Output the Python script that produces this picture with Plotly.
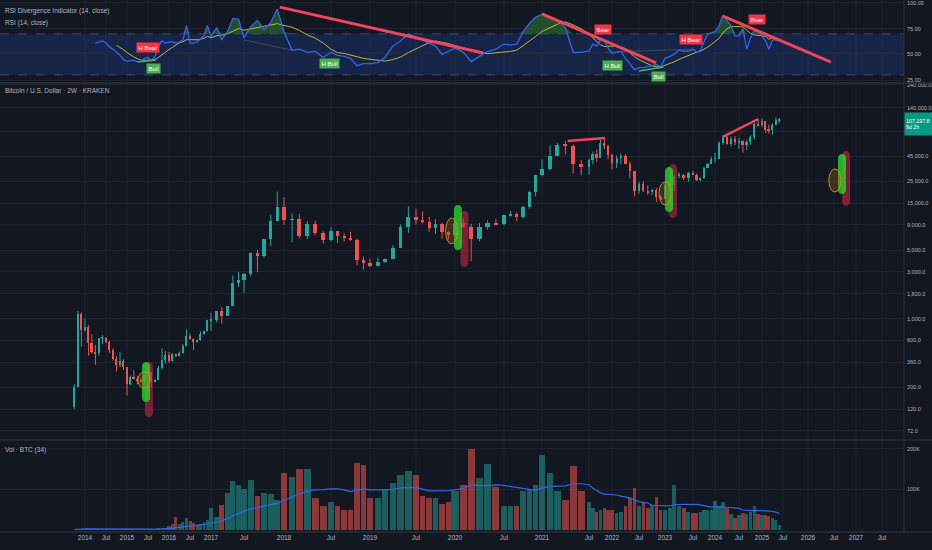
import numpy as np
import pandas as pd
import plotly.graph_objects as go

# ---------------------------------------------------------------- data
# monthly candles, Oct 2013 .. Jun 2025
FIRST_MONTH = "2013-10-01"
OPEN_FIRST = 125

CLOSE = [
    204, 1130, 760,
    830, 570, 460, 445, 630, 640, 585, 480, 385, 340, 375, 320,
    218, 254, 245, 236, 230, 264, 285, 230, 236, 313, 377, 430,
    368, 436, 416, 448, 530, 673, 624, 573, 608, 700, 745, 963,
    965, 1190, 1070, 1350, 2300, 2480, 2880, 4700, 4340, 6450, 10000, 13800,
    10200, 10300, 6900, 9250, 7500, 6400, 7730, 7000, 6630, 6350, 4000, 3700,
    3450, 3800, 4100, 5300, 8550, 10800, 10100, 9600, 8300, 9150, 7550, 7200,
    9350, 8550, 6420, 8650, 9450, 9140, 11350, 11650, 10780, 13800, 19700, 29000,
    33100, 45200, 58800, 57700, 37300, 35000, 41500, 47100, 43800, 61300, 57000, 46200,
    38500, 43200, 45500, 37700, 31800, 19900, 23300, 20000, 19400, 20500, 17200, 16550,
    23100, 23150, 28450, 29250, 27200, 30450, 29200, 25950, 26950, 34650, 37700, 42300,
    42550, 61150, 71300, 60650, 67500, 62700, 64600, 58950, 63300, 70200, 96400, 93400,
    102400, 84300, 82500, 94200, 104600, 107198,
]
HIGH = [
    215, 1200, 1160,
    1000, 860, 700, 540, 630, 680, 650, 600, 500, 415, 460, 390,
    320, 265, 300, 260, 250, 268, 318, 285, 245, 330, 500, 470,
    460, 445, 440, 465, 550, 780, 700, 630, 615, 740, 755, 975,
    1150, 1200, 1300, 1350, 2750, 3000, 2920, 4750, 5000, 6470, 11500, 19700,
    17200, 11800, 11700, 9800, 9990, 7750, 8500, 7750, 7400, 7680, 6550, 4300,
    4100, 4200, 4120, 5600, 9100, 13900, 13200, 12300, 10900, 10350, 9500, 7750,
    9550, 10500, 9200, 9450, 10050, 10400, 11450, 12480, 12100, 14100, 19900, 29300,
    41900, 58300, 61700, 64800, 59500, 41300, 42300, 50500, 52900, 67000, 69000, 59100,
    48000, 45800, 48200, 47400, 40000, 31900, 24600, 25200, 22800, 21000, 21500, 18400,
    23900, 25250, 29200, 31000, 29800, 31400, 31800, 30200, 27500, 35000, 38400, 44700,
    48900, 64000, 73800, 72800, 71900, 72000, 70000, 65600, 66500, 73600, 99800, 108300,
    109300, 102500, 95000, 97900, 111900, 110500,
]
LOW = [
    120, 200, 520,
    740, 420, 440, 340, 420, 550, 565, 450, 375, 290, 320, 300,
    165, 210, 240, 215, 225, 220, 255, 200, 225, 236, 305, 350,
    355, 365, 405, 413, 440, 520, 610, 480, 570, 600, 690, 740,
    750, 920, 890, 1060, 1340, 2100, 1830, 2700, 2980, 4160, 5500, 9800,
    9100, 6000, 6600, 6450, 7050, 5800, 6100, 5880, 6100, 6200, 3500, 3150,
    3350, 3400, 3700, 4050, 5300, 7500, 9100, 9350, 7700, 7300, 6500, 6400,
    6850, 8450, 3850, 6150, 8100, 8900, 8900, 10950, 9850, 10400, 13200, 17600,
    28100, 32300, 45000, 47000, 30000, 28800, 29300, 37300, 39600, 43300, 53300, 42000,
    33000, 34300, 37200, 37600, 26700, 17600, 18800, 19600, 18200, 18200, 15500, 16300,
    16500, 21400, 19600, 26900, 25800, 24800, 28900, 25200, 24900, 26600, 34100, 37600,
    38500, 41900, 59000, 59200, 56600, 58400, 53500, 49000, 52600, 58900, 66800, 90500,
    89200, 78200, 76600, 74400, 93300, 98200,
]
# volume per bar, thousands of BTC
VOLUME_K = [
    1, 3, 3,
    3, 3, 2, 2, 2, 2, 2, 2, 2, 2, 2, 2,
    3, 2, 2, 2, 2, 2, 3, 3, 2, 4, 6, 5,
    10, 15, 31, 15, 20, 30, 22, 18, 12, 15, 20, 25,
    54, 33, 62, 90, 122, 111, 100, 123, 85, 90, 88, 75,
    140, 130, 150, 150, 80, 60, 70, 58, 50, 50, 165, 160,
    78, 78, 100, 115, 135, 145, 136, 85, 78, 80, 65, 70,
    95, 110, 200, 128, 163, 105, 60, 60, 60, 95, 100, 110,
    185, 140, 95, 75, 158, 95, 70, 55, 45, 50, 54, 50,
    49, 41, 45, 60, 78, 103, 60, 66, 54, 62, 82, 50,
    49, 54, 111, 58, 55, 45, 43, 41, 45, 49, 49, 49,
    72, 60, 70, 54, 40, 29, 38, 41, 40, 45, 59, 40,
    37, 37, 35, 29, 25, 12,
]
# RSI(14) from Apr 2014
RSI_FIRST_MONTH = "2014-04-01"
RSI = [
    61, 62, 63, 61, 57, 55, 52, 49, 45,
    43, 44, 44, 43, 43, 46, 47, 44, 48, 58, 63, 61,
    62, 62, 61, 62, 64, 78, 61, 61, 62, 65, 68, 78,
    67, 76, 64, 72, 85, 84, 66, 77, 83, 74, 81, 94,
    72, 54, 55, 52, 53, 47, 52, 49, 48, 46, 39, 41,
    41, 42, 47, 58, 63, 70, 67, 64, 61, 58, 50, 53,
    56, 52, 43, 48, 53, 55, 60, 59, 60, 72, 80, 86,
    89, 85, 83, 76, 52, 52, 53, 60, 58, 64, 64, 56,
    51, 52, 53, 46, 40, 35, 37, 37, 38, 39, 40, 38,
    46, 48, 50, 54, 53, 53, 55, 52, 54, 62, 70, 71,
    72, 78, 88, 83, 78, 68, 68, 75, 55, 66, 73, 73,
    68, 63, 55, 64, 64, 63,
]
LAST_PRICE = 107197.8

# divergence lines
RSI_BEAR_LINES = [
    (("2017-12-13", "2020-04-15"), (96.0, 51.3)),
    (("2021-01-01", "2022-10-30"), (89.3, 41.6)),
    (("2024-03-01", "2026-06-10"), (87.3, 42.5)),
]
RSI_BULL_LINES = [
    (("2015-04-01", "2015-09-10"), (42.5, 44.5)),
    (("2022-07-01", "2022-12-20"), (33.8, 37.7)),
]
RSI_HIDDEN_LINES = [
    (("2017-07-01", "2018-02-01"), (64.0, 54.0)),
    (("2021-11-10", "2023-06-20"), (52.0, 55.0)),
]
PRICE_BEAR_LINES = [
    (("2021-04-10", "2021-11-05"), (64500, 69300)),
    (("2024-03-01", "2024-12-01"), (71000, 108000)),
]
RSI_LABELS = ["H Bear", "Bull", "H Bull", "Bear", "H Bull", "Bull", "H Bear", "Bear"]
RSI_LABEL_DATES = ["2015-07-05", "2015-08-20", "2018-06-27", "2021-10-20",
                   "2022-01-07", "2022-11-15", "2023-06-20", "2024-11-25"]
RSI_LABEL_VALUES = [57.1, 36.7, 40.6, 73.7, 39.6, 28.9, 64.0, 84.4]

# signal capsules on the price pane
GREEN_DATES = ["2015-06-14", "2020-01-12", "2023-01-27", "2026-09-06"]
GREEN_LOW = [142, 5000, 12200, 18600]
GREEN_HIGH = [362, 14400, 35100, 47500]
RED_DATES = ["2015-07-09", "2020-02-05", "2023-02-22", "2026-10-10"]
RED_LOW = [100, 3370, 10600, 14100]
RED_HIGH = [362, 12500, 37600, 51000]
RING_DATES = ["2015-05-27", "2019-12-16", "2023-01-01", "2026-07-08"]
RING_LOW = [197, 5770, 14400, 19500]
RING_HIGH = [287, 10600, 24700, 33500]

PRICE_TICKS = [72, 120, 200, 360, 600, 1000, 1800, 3000, 5000, 9000,
               15000, 25000, 45000, 80000, 140000, 240000]
RSI_TICKS = [25, 50, 75, 100]
VOL_TICKS = [100000, 200000]
VOL_TICK_TEXT = ["100K", "200K"]

# time axis: label dates and where the chart puts them
TICK_DATES = [f"{y}-{m}-01" for y in range(2014, 2028) for m in ("01", "07")]
TICK_LABELS = [lab for y in range(2014, 2028) for lab in (str(y), "Jul")]
TICK_POS = [85, 106, 127, 148, 169, 190, 211, 244, 284, 331, 370, 416, 455, 504,
            542, 589, 612, 639, 665, 693, 715, 739, 762, 783, 808, 834, 856, 882]

# ---------------------------------------------------------------- style
BG = "#131722"
GRID = "#1f2330"
SEP = "#2a2e39"
TXT = "#b2b5be"
UP = "#26a69a"
DOWN = "#ef5350"
FONT = "Liberation Sans, Arial, sans-serif"

W, H = 932, 550
M_R, M_B = 28, 18
PLOT_W, PLOT_H = W - M_R, H - M_B
RSI_DOM = [0.844, 1.0]
PRICE_DOM = [0.1729, 0.844]
VOL_DOM = [0.0, 0.1729]
PRICE_RANGE = [1.765, 5.400]
PX_PER_DEC = PLOT_H * (PRICE_DOM[1] - PRICE_DOM[0]) / (PRICE_RANGE[1] - PRICE_RANGE[0])

TICK_T = pd.to_datetime(TICK_DATES).values.astype("datetime64[D]").astype(float)


def to_x(dates):
    t = pd.to_datetime(dates).values.astype("datetime64[D]").astype(float)
    x = np.interp(t, TICK_T, TICK_POS)
    slope = (TICK_POS[1] - TICK_POS[0]) / (TICK_T[1] - TICK_T[0])
    return np.where(t < TICK_T[0], TICK_POS[0] + (t - TICK_T[0]) * slope, x)


def stadium_path(hw, hh):
    k = 0.552 * hw
    a = max(hh - hw, 0)
    r = lambda v: round(v, 2)
    return (f"M {r(-hw)},{r(-a)} L {r(-hw)},{r(a)} C {r(-hw)},{r(a + k)} {r(-k)},{r(hh)} 0,{r(hh)} "
            f"C {r(k)},{r(hh)} {r(hw)},{r(a + k)} {r(hw)},{r(a)} L {r(hw)},{r(-a)} "
            f"C {r(hw)},{r(-a - k)} {r(k)},{r(-hh)} 0,{r(-hh)} C {r(-k)},{r(-hh)} {r(-hw)},{r(-a - k)} {r(-hw)},{r(-a)} Z")


months = pd.date_range(FIRST_MONTH, periods=len(CLOSE), freq="MS")
x = to_x(months)
close = np.array(CLOSE, dtype=float)
opens = np.array([OPEN_FIRST] + CLOSE[:-1], dtype=float)
high = np.array(HIGH, dtype=float)
low = np.array(LOW, dtype=float)
up = close >= opens
spacing = np.diff(x, append=x[-1] + (x[-1] - x[-2]))

body_lo = np.minimum(opens, close)
body_hi = np.maximum(opens, close)
body_size = np.maximum(body_hi - body_lo, body_lo * 0.015)

fig = go.Figure()

# ---------------------------------------------------------------- RSI pane
rsi_x = to_x(pd.date_range(RSI_FIRST_MONTH, periods=len(RSI), freq="MS"))
rsi = np.array(RSI, dtype=float)
rsi_ma = pd.Series(rsi).rolling(7).mean()

fig.add_trace(go.Scatter(x=rsi_x, y=np.full(len(rsi), 70.0), yaxis="y", mode="lines",
                         line=dict(width=0), hoverinfo="skip", showlegend=False))
fig.add_trace(go.Scatter(x=rsi_x, y=np.maximum(rsi, 70), yaxis="y", mode="lines",
                         line=dict(width=0), fill="tonexty", fillcolor="rgba(46,125,50,0.55)",
                         hoverinfo="skip", showlegend=False))
for (d, v) in RSI_HIDDEN_LINES:
    fig.add_trace(go.Scatter(x=to_x(list(d)), y=list(v), yaxis="y", mode="lines",
                             line=dict(color="rgba(140,140,150,0.35)", width=1),
                             hoverinfo="skip", showlegend=False))
fig.add_trace(go.Scatter(x=rsi_x, y=rsi_ma, yaxis="y", mode="lines",
                         line=dict(color="rgba(220,200,80,0.85)", width=1),
                         hoverinfo="skip", showlegend=False))
fig.add_trace(go.Scatter(x=rsi_x, y=rsi, yaxis="y", mode="lines",
                         line=dict(color="#2f66f0", width=1.3),
                         hoverinfo="skip", showlegend=False))
for (d, v) in RSI_BULL_LINES:
    fig.add_trace(go.Scatter(x=to_x(list(d)), y=list(v), yaxis="y", mode="lines",
                             line=dict(color="#4caf50", width=1.5),
                             hoverinfo="skip", showlegend=False))
for (d, v) in RSI_BEAR_LINES:
    fig.add_trace(go.Scatter(x=to_x(list(d)), y=list(v), yaxis="y", mode="lines",
                             line=dict(color="#f0455a", width=3),
                             hoverinfo="skip", showlegend=False))

# ---------------------------------------------------------------- price pane
fig.add_trace(go.Bar(x=x, y=body_size, base=body_lo, yaxis="y2", width=spacing * 0.5,
                     marker=dict(color=np.where(up, UP, DOWN), line=dict(width=0)),
                     hoverinfo="skip", showlegend=False))
for mask, col in ((up, UP), (~up, DOWN)):
    wx, wy = [], []
    for xi, lo, hi in zip(x[mask], low[mask], high[mask]):
        wx += [xi, xi, None]
        wy += [lo, hi, None]
    fig.add_trace(go.Scatter(x=wx, y=wy, yaxis="y2", mode="lines",
                             line=dict(color=col, width=1), hoverinfo="skip", showlegend=False))
for (d, v) in PRICE_BEAR_LINES:
    fig.add_trace(go.Scatter(x=to_x(list(d)), y=list(v), yaxis="y2", mode="lines",
                             line=dict(color="#f0455a", width=2.5),
                             hoverinfo="skip", showlegend=False))

# ---------------------------------------------------------------- volume pane
vol = np.array(VOLUME_K, dtype=float) * 1000
vol_ma = pd.Series(vol).rolling(17, min_periods=1).mean()
fig.add_trace(go.Bar(x=x, y=vol, yaxis="y3", width=spacing * 0.85,
                     marker=dict(color=np.where(up, "rgba(38,166,154,0.5)", "rgba(239,83,80,0.55)"),
                                 line=dict(width=0)),
                     hoverinfo="skip", showlegend=False))
fig.add_trace(go.Scatter(x=x, y=vol_ma, yaxis="y3", mode="lines",
                         line=dict(color="#2f66f0", width=1.2),
                         hoverinfo="skip", showlegend=False))

# ---------------------------------------------------------------- shapes
shapes = []
for p in TICK_POS:
    shapes.append(dict(type="line", xref="x", yref="paper", x0=p, x1=p, y0=0, y1=1,
                       line=dict(color=GRID, width=1), layer="below"))
shapes.append(dict(type="rect", xref="paper", yref="y", x0=0, x1=1, y0=30, y1=70,
                   fillcolor="rgba(41,98,255,0.17)", line=dict(width=0), layer="below"))
for lvl, dash in ((70, "dash"), (30, "dash"), (50, "solid")):
    shapes.append(dict(type="line", xref="paper", yref="y", x0=0, x1=1, y0=lvl, y1=lvl,
                       line=dict(color="rgba(120,123,134,0.45)", width=1, dash=dash), layer="below"))
for yd in (RSI_DOM[0], PRICE_DOM[0], 0):
    shapes.append(dict(type="line", xref="paper", yref="paper", x0=0, x1=W / PLOT_W,
                       y0=yd, y1=yd, line=dict(color=SEP, width=1.5)))
shapes.append(dict(type="line", xref="paper", yref="paper", x0=1, x1=1, y0=0, y1=1,
                   line=dict(color=SEP, width=1)))

for dates, lo_arr, hi_arr, fill in ((RED_DATES, RED_LOW, RED_HIGH, "rgba(190,40,70,0.6)"),
                                    (GREEN_DATES, GREEN_LOW, GREEN_HIGH, "rgba(40,225,40,0.75)")):
    for xc, lo, hi in zip(to_x(dates), lo_arr, hi_arr):
        hh = (np.log10(hi) - np.log10(lo)) * PX_PER_DEC / 2
        shapes.append(dict(type="path", xref="x", yref="y2", xsizemode="pixel", ysizemode="pixel",
                           xanchor=float(xc), yanchor=float(np.sqrt(lo * hi)),
                           path=stadium_path(4, hh), fillcolor=fill, line=dict(width=0)))
for xc, lo, hi in zip(to_x(RING_DATES), RING_LOW, RING_HIGH):
    shapes.append(dict(type="circle", xref="x", yref="y2", xsizemode="pixel", xanchor=float(xc),
                       x0=-6, x1=6, y0=lo, y1=hi, fillcolor="rgba(160,100,20,0.3)",
                       line=dict(color="#c98a2b", width=1)))

# ---------------------------------------------------------------- annotations
ann = []
for txt, ypx in (("RSI Divergence Indicator (14, close)", 11), ("RSI (14, close)", 23),
                 ("Bitcoin / U.S. Dollar · 2W · KRAKEN", 91), ("Vol · BTC (34)", 450)):
    ann.append(dict(text=txt, xref="paper", yref="paper", x=0.003, y=1 - ypx / PLOT_H,
                    xanchor="left", yanchor="middle", showarrow=False,
                    font=dict(size=6.5, color=TXT, family=FONT)))
for txt, xd, v in zip(RSI_LABELS, to_x(RSI_LABEL_DATES), RSI_LABEL_VALUES):
    ann.append(dict(text=txt, xref="x", yref="y", x=float(xd), y=v, showarrow=False,
                    bgcolor="#f23645" if "Bear" in txt else "#4caf50", borderpad=1.5,
                    font=dict(size=6, color="white", family=FONT)))
ann.append(dict(text=f"{LAST_PRICE:,.1f}<br>9d 2h", xref="paper", yref="y2", x=1,
                y=np.log10(LAST_PRICE), xanchor="left", yanchor="top", yshift=7, xshift=0,
                width=26, height=20, align="left", valign="middle", showarrow=False,
                bgcolor="#089981", borderpad=1,
                font=dict(size=5.3, color="white", family=FONT)))

axis_common = dict(side="right", anchor="x", showgrid=True, gridcolor=GRID, zeroline=False,
                   showline=False, ticks="", ticklabelstandoff=2, ticklabeloverflow="allow",
                   tickfont=dict(size=5.5, color=TXT, family=FONT), fixedrange=True)

fig.update_layout(
    width=W, height=H,
    margin=dict(l=0, r=M_R, t=0, b=M_B),
    paper_bgcolor=BG, plot_bgcolor=BG,
    font=dict(family=FONT, color=TXT, size=7),
    barmode="overlay", bargap=0,
    hovermode=False, showlegend=False,
    xaxis=dict(range=[0, PLOT_W], tickvals=TICK_POS, ticktext=TICK_LABELS, showgrid=False,
               zeroline=False, showline=False, ticks="", anchor="y3",
               tickfont=dict(size=6.5, color=TXT, family=FONT), fixedrange=True,
               rangeslider=dict(visible=False)),
    yaxis=dict(domain=RSI_DOM, range=[22.1, 102.9], tickvals=RSI_TICKS,
               ticktext=[f"{v:.2f}" for v in RSI_TICKS], **axis_common),
    yaxis2=dict(domain=PRICE_DOM, type="log", range=PRICE_RANGE, tickvals=PRICE_TICKS,
                ticktext=[f"{v:,.1f}" for v in PRICE_TICKS], **axis_common),
    yaxis3=dict(domain=VOL_DOM, range=[-5000, 222000], tickvals=VOL_TICKS,
                ticktext=VOL_TICK_TEXT, **axis_common),
    shapes=shapes,
    annotations=ann,
)

fig.write_html("out.html", config={"displayModeBar": False},
               post_script="document.body.style.margin='0';"
                           "document.body.style.background='" + BG + "';")
